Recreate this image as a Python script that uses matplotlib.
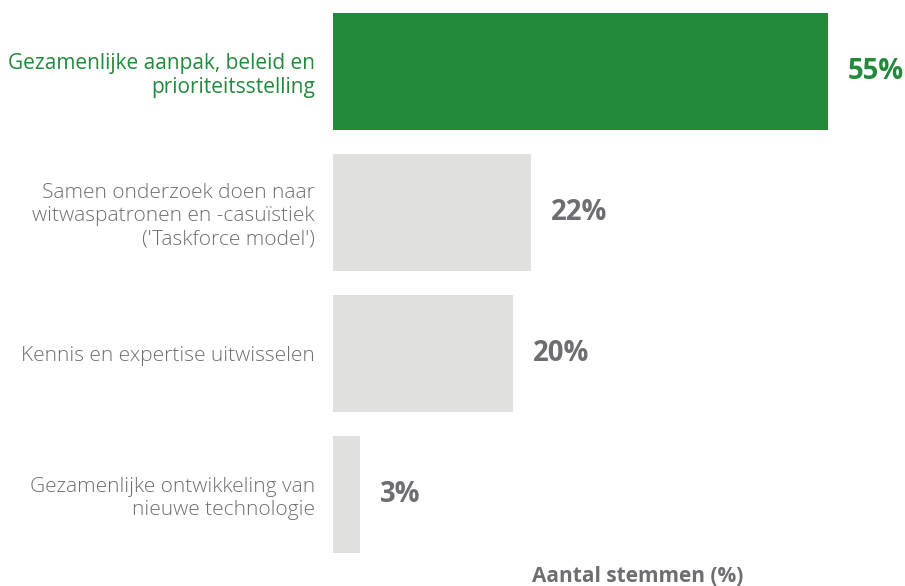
import matplotlib.pyplot as plt
import numpy as np

categories = [
    "Gezamenlijke aanpak, beleid en\nprioriteitsstelling",
    "Samen onderzoek doen naar\nwitwaspatronen en -casuïstiek\n('Taskforce model')",
    "Kennis en expertise uitwisselen",
    "Gezamenlijke ontwikkeling van\nnieuwe technologie",
]
values = [55, 22, 20, 3]
highlight = [True, False, False, False]

GREEN = "#228a3b"
GREY_BAR = "#e0e0df"
GREY_TXT = "#6d6e71"
GREY_VAL = "#6d6e71"

plt.rcParams["font.family"] = ["Open Sans", "DejaVu Sans"]

fig = plt.figure(figsize=(9.05, 5.86), dpi=100)
ax = fig.add_axes([333 / 905, 21 / 586, 495 / 905, 564 / 586])

y = np.arange(len(values))
colors = [GREEN if h else GREY_BAR for h in highlight]
ax.barh(y, values, height=0.83, color=colors)
ax.set_xlim(0, 55)
ax.set_ylim(3.5, -0.5)

for yi, v, h in zip(y, values, highlight):
    ax.annotate(f"{v}%", (v, yi), xytext=(14, 0), textcoords="offset points",
                ha="left", va="center", fontsize=19.8, fontweight="bold",
                color=GREEN if h else GREY_VAL)

ax.set_yticks(y)
ax.set_yticklabels(categories, fontsize=15)
for lbl, h in zip(ax.get_yticklabels(), highlight):
    lbl.set_color(GREEN if h else GREY_TXT)
    lbl.set_fontweight("normal" if h else "light")
    lbl.set_linespacing(1.2)
ax.tick_params(axis="y", length=0, pad=13)
ax.set_xticks([])
for s in ax.spines.values():
    s.set_visible(False)

fig.text(638 / 905, 10 / 586, "Aantal stemmen (%)", ha="center", va="center",
         fontsize=15, fontweight="bold", color=GREY_VAL)

fig.savefig("out.png", dpi=100)
